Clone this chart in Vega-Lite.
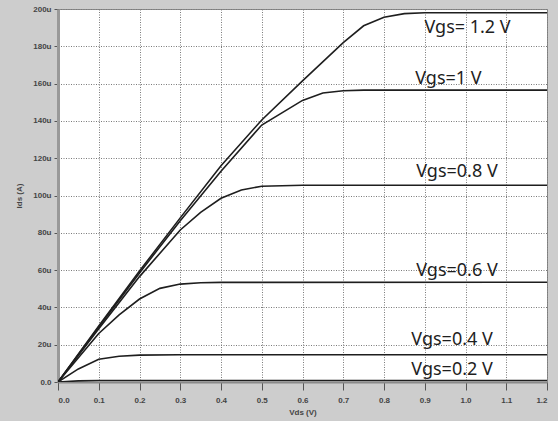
{
  "$schema": "https://vega.github.io/schema/vega-lite/v6.json",
  "autosize": {"type": "none"},
  "width": 489,
  "height": 373,
  "padding": {"left": 58, "top": 9, "right": 11, "bottom": 39},
  "background": "#cdcdcd",
  "config": {
    "view": {"fill": "white", "stroke": "#8a8a8a", "strokeWidth": 1},
    "font": "Liberation Sans",
    "axis": {
      "grid": true,
      "gridColor": "#7a7a7a",
      "gridDash": [1, 1.5],
      "gridWidth": 1,
      "labelFont": "Liberation Sans",
      "labelFontSize": 8,
      "labelFontWeight": "bold",
      "labelColor": "#444",
      "titleFont": "Liberation Sans",
      "titleFontSize": 8,
      "titleFontWeight": "bold",
      "titleColor": "#444",
      "tickColor": "#555",
      "tickWidth": 1
    }
  },
  "datasets": {
    "curves": [
      {"vgs": "1.2", "vds": 0, "ids": 0},
      {"vgs": "1.2", "vds": 0.1, "ids": 30},
      {"vgs": "1.2", "vds": 0.2, "ids": 59.5},
      {"vgs": "1.2", "vds": 0.3, "ids": 88},
      {"vgs": "1.2", "vds": 0.4, "ids": 116},
      {"vgs": "1.2", "vds": 0.5, "ids": 140.5},
      {"vgs": "1.2", "vds": 0.6, "ids": 161.5},
      {"vgs": "1.2", "vds": 0.7, "ids": 182},
      {"vgs": "1.2", "vds": 0.75, "ids": 191},
      {"vgs": "1.2", "vds": 0.8, "ids": 195.6},
      {"vgs": "1.2", "vds": 0.85, "ids": 197.5},
      {"vgs": "1.2", "vds": 0.9, "ids": 198},
      {"vgs": "1.2", "vds": 1.2, "ids": 198},
      {"vgs": "1", "vds": 0, "ids": 0},
      {"vgs": "1", "vds": 0.1, "ids": 29.5},
      {"vgs": "1", "vds": 0.2, "ids": 58.5},
      {"vgs": "1", "vds": 0.3, "ids": 86.5},
      {"vgs": "1", "vds": 0.4, "ids": 113},
      {"vgs": "1", "vds": 0.5, "ids": 137.8},
      {"vgs": "1", "vds": 0.6, "ids": 151},
      {"vgs": "1", "vds": 0.65, "ids": 155},
      {"vgs": "1", "vds": 0.7, "ids": 156.2},
      {"vgs": "1", "vds": 0.75, "ids": 156.5},
      {"vgs": "1", "vds": 1.2, "ids": 156.5},
      {"vgs": "0.8", "vds": 0, "ids": 0},
      {"vgs": "0.8", "vds": 0.1, "ids": 28.5},
      {"vgs": "0.8", "vds": 0.2, "ids": 56.5},
      {"vgs": "0.8", "vds": 0.3, "ids": 81.5},
      {"vgs": "0.8", "vds": 0.35, "ids": 91},
      {"vgs": "0.8", "vds": 0.4, "ids": 98.5},
      {"vgs": "0.8", "vds": 0.45, "ids": 103},
      {"vgs": "0.8", "vds": 0.5, "ids": 105},
      {"vgs": "0.8", "vds": 0.6, "ids": 105.5},
      {"vgs": "0.8", "vds": 1.2, "ids": 105.5},
      {"vgs": "0.6", "vds": 0, "ids": 0},
      {"vgs": "0.6", "vds": 0.1, "ids": 26},
      {"vgs": "0.6", "vds": 0.15, "ids": 36},
      {"vgs": "0.6", "vds": 0.2, "ids": 44.5},
      {"vgs": "0.6", "vds": 0.25, "ids": 50.2},
      {"vgs": "0.6", "vds": 0.3, "ids": 52.5},
      {"vgs": "0.6", "vds": 0.35, "ids": 53.2},
      {"vgs": "0.6", "vds": 0.4, "ids": 53.4},
      {"vgs": "0.6", "vds": 1.2, "ids": 53.5},
      {"vgs": "0.4", "vds": 0, "ids": 0},
      {"vgs": "0.4", "vds": 0.05, "ids": 7},
      {"vgs": "0.4", "vds": 0.1, "ids": 12.2},
      {"vgs": "0.4", "vds": 0.15, "ids": 13.8},
      {"vgs": "0.4", "vds": 0.2, "ids": 14.4},
      {"vgs": "0.4", "vds": 0.3, "ids": 14.6},
      {"vgs": "0.4", "vds": 1.2, "ids": 14.6},
      {"vgs": "0.2", "vds": 0, "ids": 0},
      {"vgs": "0.2", "vds": 0.05, "ids": 0.6},
      {"vgs": "0.2", "vds": 0.1, "ids": 0.8},
      {"vgs": "0.2", "vds": 1.2, "ids": 0.8}
    ],
    "labels": [
      {"text": "Vgs= 1.2 V", "vds": 1.005, "ids": 190},
      {"text": "Vgs=1 V", "vds": 0.958, "ids": 162.5},
      {"text": "Vgs=0.8 V", "vds": 0.979, "ids": 112.5},
      {"text": "Vgs=0.6 V", "vds": 0.979, "ids": 59.5},
      {"text": "Vgs=0.4 V", "vds": 0.967, "ids": 22.5},
      {"text": "Vgs=0.2 V", "vds": 0.967, "ids": 6.5}
    ]
  },
  "encoding": {
    "x": {
      "field": "vds", "type": "quantitative",
      "scale": {"domain": [0, 1.2], "nice": false},
      "axis": {
        "title": "Vds (V)",
        "values": [0, 0.1, 0.2, 0.3, 0.4, 0.5, 0.6, 0.7, 0.8, 0.9, 1.0, 1.1, 1.2],
        "format": ".1f",
        "labelOverlap": false,
        "tickSize": 8,
        "labelPadding": 6,
        "titlePadding": 4,
        "domainColor": "#8a8a8a",
        "domainWidth": 2
      }
    },
    "y": {
      "field": "ids", "type": "quantitative",
      "scale": {"domain": [0, 200], "nice": false},
      "axis": {
        "title": "Ids (A)",
        "values": [0, 20, 40, 60, 80, 100, 120, 140, 160, 180, 200],
        "labelExpr": "datum.value == 0 ? '0.0' : datum.value + 'u'",
        "labelOverlap": false,
        "tickSize": 4,
        "labelPadding": 3,
        "titlePadding": 9,
        "domainColor": "#999999",
        "domainWidth": 3
      }
    }
  },
  "layer": [
    {
      "data": {"name": "curves"},
      "mark": {"type": "line", "strokeWidth": 1.6, "color": "#1e1e1e", "clip": true},
      "encoding": {
        "detail": {"field": "vgs", "type": "nominal"}
      }
    },
    {
      "data": {"name": "labels"},
      "mark": {"type": "text", "font": "Noto Sans", "fontSize": 18, "color": "#1e1e1e", "align": "center", "baseline": "middle"},
      "encoding": {
        "text": {"field": "text", "type": "nominal"}
      }
    }
  ]
}
